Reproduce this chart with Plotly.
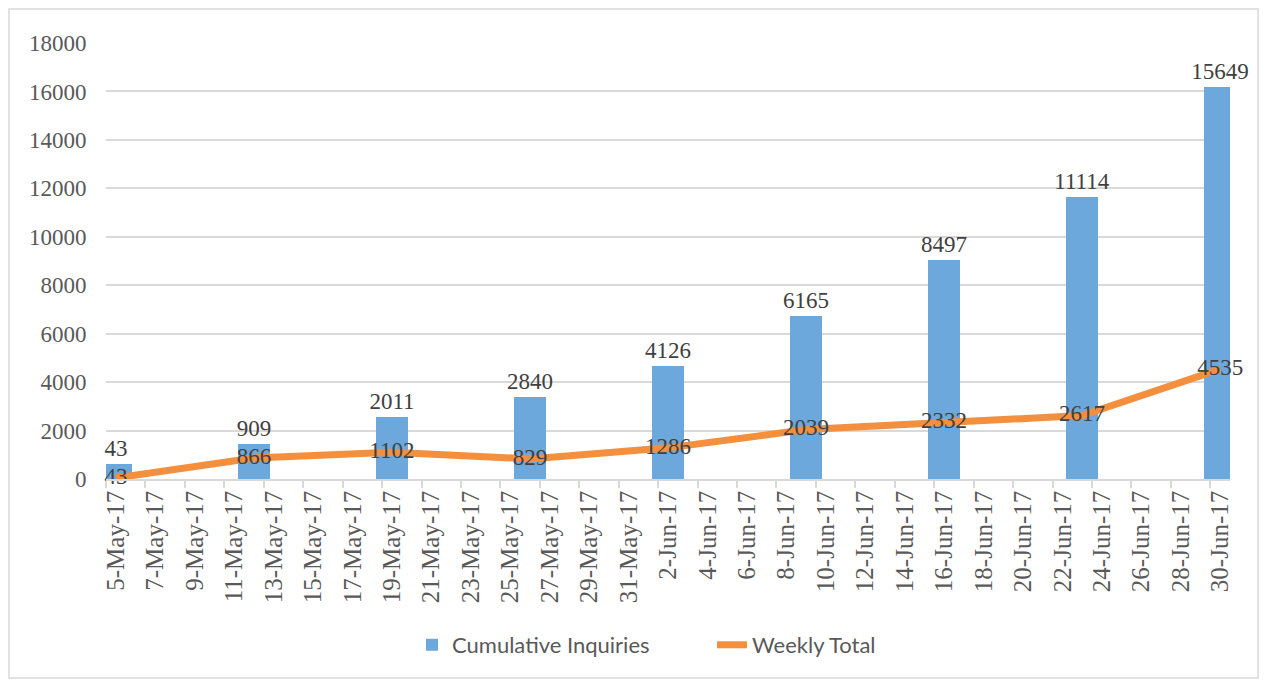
import plotly.graph_objects as go
import pandas as pd

# ---------------- data ----------------
dates = ["5-May-17", "12-May-17", "19-May-17", "26-May-17", "2-Jun-17",
         "9-Jun-17", "16-Jun-17", "23-Jun-17", "30-Jun-17"]
cumulative_labels = [43, 909, 2011, 2840, 4126, 6165, 8497, 11114, 15649]
cumulative_bar_heights = [600, 1450, 2560, 3400, 4680, 6720, 9040, 11660, 16200]
weekly_total = [43, 866, 1102, 829, 1286, 2039, 2332, 2617, 4535]
tick_labels = ["5-May-17", "7-May-17", "9-May-17", "11-May-17", "13-May-17",
               "15-May-17", "17-May-17", "19-May-17", "21-May-17", "23-May-17",
               "25-May-17", "27-May-17", "29-May-17", "31-May-17", "2-Jun-17",
               "4-Jun-17", "6-Jun-17", "8-Jun-17", "10-Jun-17", "12-Jun-17",
               "14-Jun-17", "16-Jun-17", "18-Jun-17", "20-Jun-17", "22-Jun-17",
               "24-Jun-17", "26-Jun-17", "28-Jun-17", "30-Jun-17"]
y_ticks = [0, 2000, 4000, 6000, 8000, 10000, 12000, 14000, 16000, 18000]

# ---------------- styling ----------------
BAR_COLOR = "#6CA8DB"
LINE_COLOR = "#F38F3D"
GRID = "#D9D9D9"
SERIF = "Liberation Serif, Times New Roman, serif"

x_dates = pd.to_datetime(dates, format="%d-%b-%y")
tick_dates = pd.to_datetime(tick_labels, format="%d-%b-%y")
half_day = pd.Timedelta(hours=12)
day_ms = 86400000

fig = go.Figure()

fig.add_trace(go.Bar(
    x=x_dates, y=cumulative_bar_heights,
    name="Cumulative Inquiries",
    marker=dict(color=BAR_COLOR, line=dict(width=0)),
    width=1.65 * day_ms,
    text=[str(v) for v in cumulative_labels],
    textposition="outside",
    textfont=dict(family=SERIF, size=23, color="#404040"),
    constraintext="none",
    cliponaxis=False,
    hoverinfo="skip",
))

fig.add_trace(go.Scatter(
    x=x_dates, y=weekly_total,
    name="Weekly Total",
    mode="lines+text",
    line=dict(color=LINE_COLOR, width=7),
    text=[str(v) for v in weekly_total],
    textposition="middle center",
    textfont=dict(family=SERIF, size=23, color="#404040"),
    cliponaxis=False,
    hoverinfo="skip",
))

# page body has an 8px margin; figure sized to fit the viewport
OFF = 8
W, H = 1267 - 2 * OFF, 687 - 2 * OFF
L, T = 106 - OFF, 43 - OFF
R = W - (1230 - OFF)
B = H - (479 - OFF)
pw, ph = W - L - R, H - T - B

def px_x(sx):
    return (sx - OFF - L) / pw

def px_y(sy):
    return (H - B - (sy - OFF)) / ph

fig.update_layout(
    width=W, height=H,
    margin=dict(l=L, r=R, t=T, b=B),
    paper_bgcolor="white", plot_bgcolor="white",
    showlegend=True,
    legend=dict(
        orientation="h", x=px_x(412), xanchor="left",
        y=px_y(645), yanchor="middle",
        font=dict(family="Lato, Calibri, sans-serif", size=22, color="#595959"),
        entrywidth=255, entrywidthmode="pixels",
        traceorder="normal",
    ),
    bargap=0,
    xaxis=dict(
        type="date",
        range=[x_dates[0] - half_day, x_dates[-1] + half_day],
        tickmode="array",
        tickvals=tick_dates,
        ticktext=tick_labels,
        tickangle=-90,
        ticks="",
        ticklabelstandoff=0,
        tickfont=dict(family=SERIF, size=25, color="#595959"),
        showgrid=False,
        showline=True, linecolor=GRID, linewidth=1.5,
        zeroline=False,
        minor=dict(
            tickmode="array",
            tickvals=[d - half_day for d in tick_dates],
            ticks="outside", ticklen=7, tickcolor=GRID, tickwidth=1.5,
            showgrid=False,
        ),
        fixedrange=True,
    ),
    yaxis=dict(
        range=[0, 18000],
        tickmode="array",
        tickvals=y_ticks,
        ticktext=[str(v) for v in y_ticks],
        ticks="outside", ticklen=14, tickcolor="rgba(0,0,0,0)",
        tickfont=dict(family=SERIF, size=23, color="#595959"),
        showgrid=True, gridcolor=GRID, gridwidth=1.5,
        zeroline=False,
        showline=False,
        fixedrange=True,
    ),
    shapes=[dict(
        type="rect", xref="paper", yref="paper",
        x0=px_x(9), x1=px_x(1258), y0=px_y(678), y1=px_y(9),
        line=dict(color=GRID, width=1.5), fillcolor="rgba(0,0,0,0)",
        layer="below",
    )],
)

fig.write_html("out.html")
